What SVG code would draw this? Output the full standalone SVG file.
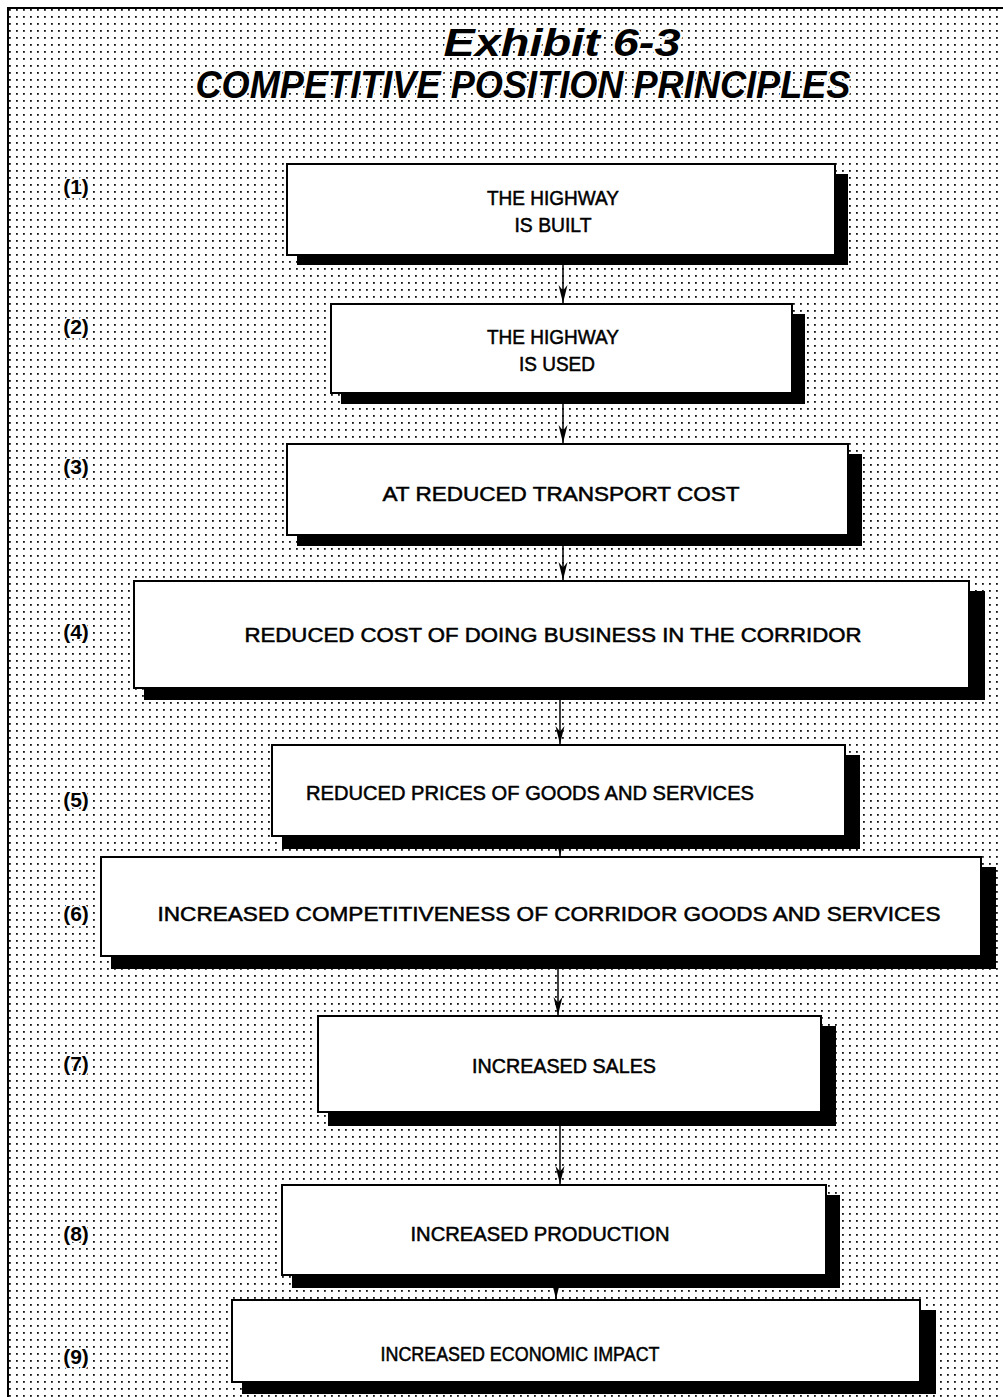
<svg xmlns="http://www.w3.org/2000/svg" width="1003" height="1397" viewBox="0 0 1003 1397">
<defs>
<pattern id="dots" x="0" y="0" width="7" height="7" patternUnits="userSpaceOnUse">
<rect x="2" y="2" width="1.8" height="1.8" fill="#111"/>
</pattern>
<marker id="ah" viewBox="0 0 20 10" refX="20" refY="5" markerWidth="18" markerHeight="11" markerUnits="userSpaceOnUse" orient="auto">
<path d="M0,0 L6,5 L0,10 L20,5 Z" fill="#000"/>
</marker>
<style>
.box{fill:#fff;stroke:#000;stroke-width:2}
.sh{fill:#000}
.t{font-family:"Liberation Sans",Arial,sans-serif;font-size:20px;fill:#000;text-anchor:middle;stroke:#000;stroke-width:0.5}
.lb{font-family:"Liberation Sans",Arial,sans-serif;font-size:21px;font-weight:bold;fill:#000;text-anchor:middle;stroke:#fff;stroke-width:3;paint-order:stroke}
.ti{font-family:"Liberation Sans",Arial,sans-serif;font-size:38px;font-weight:bold;font-style:italic;fill:#000;text-anchor:middle;stroke:#fff;stroke-width:4;paint-order:stroke;stroke-linejoin:round}
.c{stroke:#000;stroke-width:1.5;fill:none}
</style>
</defs>
<rect x="0" y="0" width="1003" height="1397" fill="#fff"/>
<rect x="8" y="8" width="995" height="1389" fill="url(#dots)"/>
<path d="M8,1397 L8,8 L1003,8" fill="none" stroke="#000" stroke-width="2"/>
<g id="title">
<text class="ti" x="562" y="56" textLength="237" lengthAdjust="spacingAndGlyphs">Exhibit 6-3</text>
<text class="ti" x="523" y="98" textLength="655" lengthAdjust="spacingAndGlyphs">COMPETITIVE POSITION PRINCIPLES</text>
</g>
<g id="labels">
<text class="lb" x="76" y="194">(1)</text>
<text class="lb" x="76" y="334">(2)</text>
<text class="lb" x="76" y="474">(3)</text>
<text class="lb" x="76" y="639">(4)</text>
<text class="lb" x="76" y="807">(5)</text>
<text class="lb" x="76" y="921">(6)</text>
<text class="lb" x="76" y="1071">(7)</text>
<text class="lb" x="76" y="1241">(8)</text>
<text class="lb" x="76" y="1364">(9)</text>
</g>
<g id="n1">
<rect class="sh" x="297" y="174" width="551" height="91"/>
<rect class="box" x="287" y="164" width="548" height="91"/>
<text class="t" x="553" y="205" textLength="132" lengthAdjust="spacingAndGlyphs">THE HIGHWAY</text>
<text class="t" x="553" y="232" textLength="77" lengthAdjust="spacingAndGlyphs">IS BUILT</text>
</g>
<g id="n2">
<rect class="sh" x="341" y="314" width="464" height="90"/>
<rect class="box" x="331" y="304" width="461" height="89"/>
<text class="t" x="553" y="344" textLength="132" lengthAdjust="spacingAndGlyphs">THE HIGHWAY</text>
<text class="t" x="557" y="371" textLength="76" lengthAdjust="spacingAndGlyphs">IS USED</text>
</g>
<g id="n3">
<rect class="sh" x="297" y="454" width="565" height="92"/>
<rect class="box" x="287" y="444" width="561" height="91"/>
<text class="t" x="561" y="501" textLength="357" lengthAdjust="spacingAndGlyphs">AT REDUCED TRANSPORT COST</text>
</g>
<g id="n4">
<rect class="sh" x="144" y="591" width="841" height="109"/>
<rect class="box" x="134" y="581" width="835" height="107"/>
<text class="t" x="553" y="642" textLength="617" lengthAdjust="spacingAndGlyphs">REDUCED COST OF DOING BUSINESS IN THE CORRIDOR</text>
</g>
<g id="n5">
<rect class="sh" x="282" y="755" width="578" height="94"/>
<rect class="box" x="272" y="745" width="573" height="91"/>
<text class="t" x="530" y="800" textLength="448" lengthAdjust="spacingAndGlyphs">REDUCED PRICES OF GOODS AND SERVICES</text>
</g>
<g id="n6">
<rect class="sh" x="111" y="867" width="885" height="102"/>
<rect class="box" x="101" y="857" width="880" height="99"/>
<text class="t" x="549" y="921" textLength="783" lengthAdjust="spacingAndGlyphs">INCREASED COMPETITIVENESS OF CORRIDOR GOODS AND SERVICES</text>
</g>
<g id="n7">
<rect class="sh" x="328" y="1026" width="508" height="100"/>
<rect class="box" x="318" y="1016" width="503" height="96"/>
<text class="t" x="564" y="1073" textLength="184" lengthAdjust="spacingAndGlyphs">INCREASED SALES</text>
</g>
<g id="n8">
<rect class="sh" x="292" y="1195" width="548" height="93"/>
<rect class="box" x="282" y="1185" width="544" height="90"/>
<text class="t" x="540" y="1241" textLength="259" lengthAdjust="spacingAndGlyphs">INCREASED PRODUCTION</text>
</g>
<g id="n9">
<rect class="sh" x="242" y="1310" width="694" height="84"/>
<rect class="box" x="232" y="1300" width="688" height="82"/>
<text class="t" x="520" y="1361" textLength="279" lengthAdjust="spacingAndGlyphs">INCREASED ECONOMIC IMPACT</text>
</g>
<g id="connectors">
<line class="c" x1="563" y1="265" x2="563" y2="303" marker-end="url(#ah)"/>
<line class="c" x1="563" y1="404" x2="563" y2="443" marker-end="url(#ah)"/>
<line class="c" x1="563" y1="546" x2="563" y2="580" marker-end="url(#ah)"/>
<line class="c" x1="560" y1="700" x2="560" y2="744" marker-end="url(#ah)"/>
<line class="c" x1="560" y1="836" x2="560" y2="856" marker-end="url(#ah)"/>
<line class="c" x1="558" y1="969" x2="558" y2="1015" marker-end="url(#ah)"/>
<line class="c" x1="560" y1="1126" x2="560" y2="1184" marker-end="url(#ah)"/>
<line class="c" x1="556" y1="1275" x2="556" y2="1299" marker-end="url(#ah)"/>
</g>
</svg>
